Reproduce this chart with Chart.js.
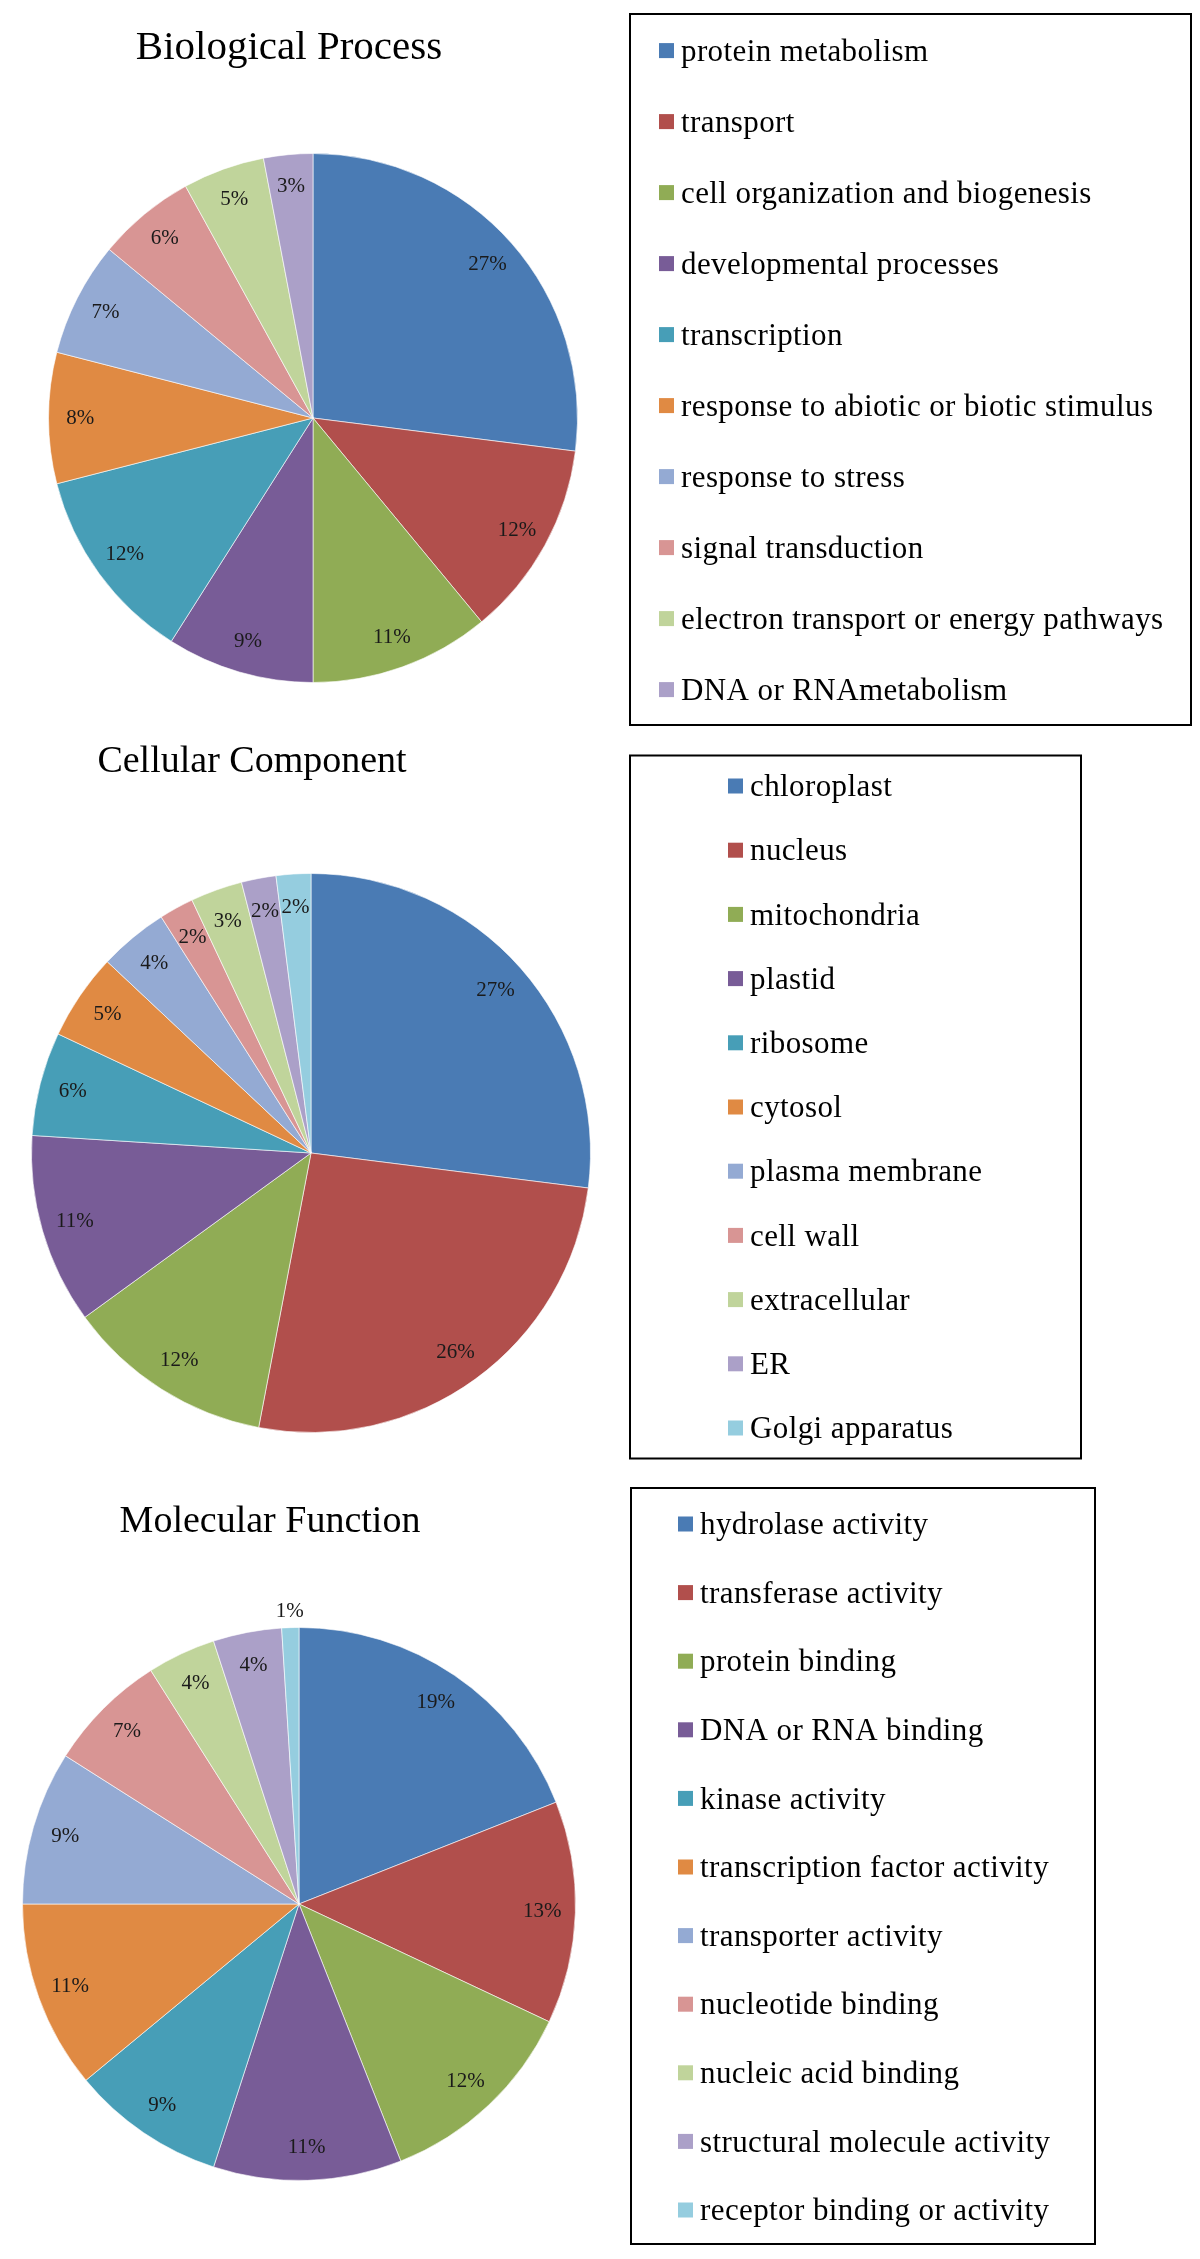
<!DOCTYPE html>
<html>
<head>
<meta charset="utf-8">
<title>GO categories</title>
<script src="https://cdn.jsdelivr.net/npm/chart.js@4.4.1/dist/chart.umd.min.js"></script>
<style>
  body { margin: 0; background: #fff; }
  .panel { position: relative; width: 1200px; }
</style>
</head>
<body>
<div class="panel" style="height:740px"><canvas id="bioChart"></canvas></div>
<div class="panel" style="height:730px"><canvas id="cellChart"></canvas></div>
<div class="panel" style="height:789px"><canvas id="molChart"></canvas></div>
<script>
// Biological Process
const bioLabels = ['protein metabolism', 'transport', 'cell organization and biogenesis',
  'developmental processes', 'transcription', 'response to abiotic or biotic stimulus',
  'response to stress', 'signal transduction', 'electron transport or energy pathways',
  'DNA or RNAmetabolism'];
const bioValues = [27, 12, 11, 9, 12, 8, 7, 6, 5, 3];

// Cellular Component
const cellLabels = ['chloroplast', 'nucleus', 'mitochondria', 'plastid', 'ribosome', 'cytosol',
  'plasma membrane', 'cell wall', 'extracellular', 'ER', 'Golgi apparatus'];
const cellValues = [27, 26, 12, 11, 6, 5, 4, 2, 3, 2, 2];

// Molecular Function
const molLabels = ['hydrolase activity', 'transferase activity', 'protein binding',
  'DNA or RNA binding', 'kinase activity', 'transcription factor activity',
  'transporter activity', 'nucleotide binding', 'nucleic acid binding',
  'structural molecule activity', 'receptor binding or activity'];
const molValues = [19, 13, 12, 11, 9, 11, 9, 7, 4, 4, 1];

// office-style palette (main colours then lighter tints)
const palette = ['#4A7BB4', '#B14F4C', '#90AC55', '#785C97', '#479EB7', '#E08A43',
  '#94AAD3', '#D89594', '#C0D49B', '#ABA0C8', '#95CDDF'];

const SERIF = '"Liberation Serif", "Times New Roman", serif';

// percentage labels, placed inside each slice (tiny slices go just outside)
const pctLabels = {
  id: 'pctLabels',
  afterDatasetsDraw(chart) {
    const ctx = chart.ctx;
    const meta = chart.getDatasetMeta(0);
    const values = chart.data.datasets[0].data;
    const total = values.reduce((a, b) => a + b, 0);
    ctx.save();
    ctx.font = '21px ' + SERIF;
    ctx.fillStyle = '#1a1a1a';
    ctx.textAlign = 'center';
    ctx.textBaseline = 'middle';
    meta.data.forEach((arc, i) => {
      const p = arc.getProps(['x', 'y', 'startAngle', 'endAngle', 'outerRadius'], true);
      const mid = (p.startAngle + p.endAngle) / 2;
      const share = values[i] / total;
      const r = p.outerRadius * (share < 0.015 ? 1.06 : 0.88);
      ctx.fillText(Math.round(share * 100) + '%', p.x + Math.cos(mid) * r, p.y + Math.sin(mid) * r);
    });
    ctx.restore();
  }
};

// title and boxed legend, laid out like the original figure
const panelDecor = {
  id: 'panelDecor',
  afterDraw(chart, args, opts) {
    const ctx = chart.ctx;
    const ds = chart.data.datasets[0];
    ctx.save();
    ctx.fillStyle = '#000';
    ctx.textAlign = 'center';
    ctx.textBaseline = 'alphabetic';
    ctx.font = opts.titleSize + 'px ' + SERIF;
    ctx.fillText(opts.title, opts.titleX, opts.titleY);

    const f = opts.frame;
    ctx.lineWidth = 2;
    ctx.strokeStyle = '#000';
    ctx.strokeRect(f[0], f[1], f[2], f[3]);

    ctx.font = '31px ' + SERIF;
    ctx.letterSpacing = '0.4px';
    ctx.textAlign = 'left';
    ctx.textBaseline = 'middle';
    chart.data.labels.forEach((label, i) => {
      const cy = opts.legendY + i * opts.legendStep;
      ctx.fillStyle = ds.backgroundColor[i];
      ctx.fillRect(opts.legendX, cy - 7.5, 15, 15);
      ctx.fillStyle = '#000';
      ctx.fillText(label, opts.legendX + 22, cy + 2);
    });
    ctx.restore();
  }
};

function makePie(id, labels, values, panelH, pie, decor) {
  new Chart(document.getElementById(id), {
    type: 'pie',
    data: {
      labels: labels,
      datasets: [{
        data: values,
        backgroundColor: palette.slice(0, values.length),
        borderColor: 'rgba(255,255,255,0.6)',
        borderWidth: 1
      }]
    },
    options: {
      responsive: true,
      maintainAspectRatio: false,
      animation: false,
      layout: {
        padding: {
          left: pie.cx - pie.r,
          right: 1200 - pie.cx - pie.r,
          top: pie.cy - pie.r,
          bottom: panelH - pie.cy - pie.r
        }
      },
      plugins: {
        legend: { display: false },
        tooltip: { enabled: false },
        panelDecor: decor
      }
    },
    plugins: [pctLabels, panelDecor]
  });
}

makePie('bioChart', bioLabels, bioValues, 740,
  { cx: 313, cy: 418, r: 265 },
  { title: 'Biological Process', titleX: 289, titleY: 59, titleSize: 41,
    legendX: 659, legendY: 50.6, legendStep: 71, frame: [630, 14, 561, 711] });

makePie('cellChart', cellLabels, cellValues, 730,
  { cx: 311, cy: 413, r: 280 },
  { title: 'Cellular Component', titleX: 252, titleY: 32, titleSize: 38,
    legendX: 728, legendY: 46, legendStep: 64.2, frame: [630, 15.5, 451, 703] });

makePie('molChart', molLabels, molValues, 789,
  { cx: 299, cy: 434, r: 277 },
  { title: 'Molecular Function', titleX: 270, titleY: 62, titleSize: 38,
    legendX: 678, legendY: 54, legendStep: 68.6, frame: [631, 18, 464, 756] });
</script>
</body>
</html>
